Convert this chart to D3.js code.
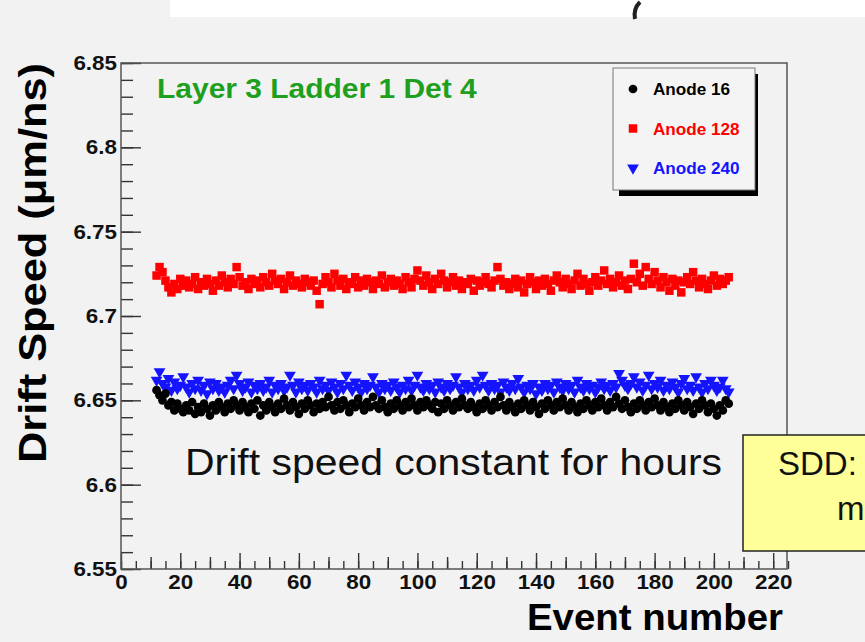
<!DOCTYPE html>
<html>
<head>
<meta charset="utf-8">
<script src="https://cdn.jsdelivr.net/npm/d3@7"></script>
<style>
  body { margin: 0; background: #f2f2f2; }
  svg { display: block; }
  text { font-family: "Liberation Sans", Arial, Helvetica, sans-serif; }
</style>
</head>
<body>
<div id="my_dataviz"></div>
<script>
// event numbers start at 12, one point per event
var firstEvent = 12;

// drift speed (um/ns) per event
var anode16 = [
  6.656, 6.653, 6.650, 6.654, 6.647, 6.649, 6.644, 6.648, 6.645, 6.643,
  6.647, 6.644, 6.649, 6.642, 6.646, 6.643, 6.648, 6.645, 6.641, 6.647,
  6.644, 6.649, 6.646, 6.643, 6.648, 6.645, 6.650, 6.647, 6.644, 6.649,
  6.646, 6.643, 6.648, 6.645, 6.650, 6.641, 6.647, 6.644, 6.649, 6.646,
  6.643, 6.648, 6.645, 6.651, 6.647, 6.644, 6.649, 6.646, 6.642, 6.648,
  6.645, 6.650, 6.647, 6.643, 6.648, 6.645, 6.649, 6.646, 6.652, 6.647,
  6.644, 6.649, 6.645, 6.650, 6.647, 6.643, 6.648, 6.646, 6.651, 6.647,
  6.644, 6.649, 6.646, 6.652, 6.647, 6.645, 6.650, 6.646, 6.643, 6.648,
  6.645, 6.650, 6.647, 6.644, 6.649, 6.646, 6.651, 6.647, 6.644, 6.649,
  6.646, 6.650, 6.647, 6.645, 6.649, 6.643, 6.648, 6.645, 6.650, 6.647,
  6.644, 6.649, 6.646, 6.651, 6.647, 6.645, 6.649, 6.646, 6.643, 6.648,
  6.645, 6.650, 6.647, 6.644, 6.649, 6.646, 6.652, 6.647, 6.644, 6.649,
  6.646, 6.643, 6.648, 6.645, 6.650, 6.647, 6.644, 6.649, 6.646, 6.642,
  6.648, 6.645, 6.650, 6.647, 6.644, 6.649, 6.646, 6.651, 6.647, 6.644,
  6.649, 6.646, 6.643, 6.648, 6.645, 6.650, 6.647, 6.644, 6.649, 6.646,
  6.651, 6.647, 6.644, 6.649, 6.646, 6.652, 6.648, 6.645, 6.650, 6.646,
  6.643, 6.648, 6.645, 6.650, 6.647, 6.644, 6.649, 6.646, 6.651, 6.647,
  6.644, 6.649, 6.646, 6.643, 6.648, 6.645, 6.650, 6.647, 6.644, 6.649,
  6.646, 6.642, 6.648, 6.645, 6.650, 6.647, 6.643, 6.648, 6.645, 6.641,
  6.647, 6.644, 6.650, 6.648
];
var anode128 = [
  6.724, 6.729, 6.726, 6.721, 6.717, 6.714, 6.719, 6.716, 6.722, 6.718,
  6.721, 6.717, 6.719, 6.723, 6.716, 6.720, 6.718, 6.722, 6.719, 6.715,
  6.721, 6.718, 6.724, 6.720, 6.717, 6.722, 6.719, 6.729, 6.723, 6.718,
  6.720, 6.716, 6.722, 6.719, 6.721, 6.717, 6.723, 6.720, 6.718, 6.725,
  6.721, 6.719, 6.722, 6.716, 6.720, 6.724, 6.718, 6.721, 6.719, 6.717,
  6.722, 6.720, 6.718, 6.721, 6.715, 6.707, 6.719, 6.723, 6.720, 6.717,
  6.725, 6.721, 6.718, 6.722, 6.716, 6.720, 6.719, 6.723, 6.717, 6.721,
  6.718, 6.722, 6.720, 6.716, 6.721, 6.719, 6.724, 6.717, 6.720, 6.722,
  6.718, 6.721, 6.719, 6.716, 6.723, 6.720, 6.717, 6.722, 6.727, 6.721,
  6.718, 6.724, 6.720, 6.716, 6.722, 6.719, 6.725, 6.721, 6.717, 6.720,
  6.723, 6.718, 6.721, 6.716, 6.720, 6.719, 6.722, 6.715, 6.721, 6.718,
  6.720, 6.723, 6.719, 6.717, 6.721, 6.729, 6.722, 6.718, 6.720, 6.716,
  6.719, 6.722, 6.717, 6.721, 6.714, 6.719, 6.723, 6.720, 6.716, 6.721,
  6.718, 6.722, 6.719, 6.715, 6.721, 6.724, 6.720, 6.717, 6.722, 6.719,
  6.716, 6.721, 6.725, 6.718, 6.722, 6.719, 6.715, 6.720, 6.723, 6.718,
  6.721, 6.727, 6.719, 6.722, 6.717, 6.720, 6.724, 6.718, 6.721, 6.716,
  6.722, 6.731, 6.720, 6.725, 6.718, 6.729, 6.722, 6.719, 6.726, 6.721,
  6.717, 6.723, 6.720, 6.715, 6.722, 6.718, 6.721, 6.714, 6.720, 6.723,
  6.719, 6.726, 6.721, 6.717, 6.722, 6.719, 6.716, 6.721, 6.724, 6.718,
  6.722, 6.719, 6.721, 6.723
];
var anode240 = [
  6.662, 6.667, 6.660, 6.658, 6.663, 6.656, 6.661, 6.657, 6.659, 6.664,
  6.658, 6.655, 6.660, 6.657, 6.662, 6.656, 6.659, 6.654, 6.661, 6.657,
  6.660, 6.656, 6.658, 6.655, 6.659, 6.662, 6.657, 6.665, 6.660, 6.656,
  6.658, 6.661, 6.655, 6.659, 6.657, 6.660, 6.656, 6.658, 6.662, 6.655,
  6.659, 6.657, 6.660, 6.656, 6.658, 6.665, 6.659, 6.655, 6.661, 6.657,
  6.659, 6.656, 6.660, 6.658, 6.655, 6.662, 6.657, 6.659, 6.656, 6.661,
  6.658, 6.655, 6.660, 6.657, 6.665, 6.659, 6.656, 6.661, 6.658, 6.655,
  6.660, 6.657, 6.659, 6.664, 6.658, 6.655, 6.660, 6.657, 6.659, 6.656,
  6.661, 6.658, 6.655, 6.659, 6.657, 6.662, 6.656, 6.659, 6.665, 6.658,
  6.656, 6.660, 6.657, 6.659, 6.655, 6.661, 6.658, 6.656, 6.660, 6.657,
  6.659, 6.664, 6.658, 6.655, 6.660, 6.657, 6.659, 6.656, 6.662, 6.658,
  6.665, 6.659, 6.656, 6.660, 6.657, 6.659, 6.655, 6.661, 6.658, 6.656,
  6.660, 6.657, 6.663, 6.658, 6.655, 6.659, 6.657, 6.660, 6.654, 6.658,
  6.656, 6.660, 6.657, 6.659, 6.655, 6.661, 6.658, 6.656, 6.660, 6.657,
  6.659, 6.655, 6.662, 6.658, 6.656, 6.660, 6.657, 6.659, 6.655, 6.658,
  6.661, 6.657, 6.659, 6.656, 6.660, 6.658, 6.666, 6.662, 6.659, 6.657,
  6.660, 6.664, 6.658, 6.661, 6.656, 6.659, 6.665, 6.657, 6.660, 6.658,
  6.662, 6.656, 6.659, 6.657, 6.661, 6.658, 6.655, 6.660, 6.663, 6.657,
  6.659, 6.656, 6.664, 6.658, 6.655, 6.660, 6.657, 6.662, 6.659, 6.656,
  6.658, 6.662, 6.657, 6.655
];

var xTicks = [0, 20, 40, 60, 80, 100, 120, 140, 160, 180, 200, 220];
var yTicks = [6.55, 6.6, 6.65, 6.7, 6.75, 6.8, 6.85];
var legendLabels = ["Anode 16", "Anode 128", "Anode 240"];

var W = 865, H = 642;

var svg = d3.select("#my_dataviz")
  .append("svg")
    .attr("width", W)
    .attr("height", H);

svg.append("rect").attr("width", W).attr("height", H).attr("fill", "#f2f2f2");

// white strip at the top (cut-off slide element)
svg.append("rect")
  .attr("x", 170).attr("y", 0).attr("width", 695).attr("height", 17)
  .attr("fill", "#ffffff");
svg.append("path")
  .attr("d", "M640,2 Q633,9 635,19")
  .attr("stroke", "#222").attr("stroke-width", 4).attr("fill", "none");

// scales
var x = d3.scaleLinear().domain([0, 225]).range([121, 788]);
var y = d3.scaleLinear().domain([6.55, 6.85]).range([569, 63]);

// stretch text horizontally a little, the picture is wider than tall
function stretch(sel, k) {
  sel.each(function() {
    var w = this.getComputedTextLength();
    d3.select(this).attr("textLength", w * k).attr("lengthAdjust", "spacingAndGlyphs");
  });
}

// minor ticks (inside the frame)
svg.append("g")
  .attr("transform", "translate(121,0)")
  .call(d3.axisLeft(y).tickValues(y.ticks(30)).tickSize(-12).tickFormat(""))
  .call(function(g) { g.select(".domain").remove(); });
svg.append("g")
  .attr("transform", "translate(0,569)")
  .call(d3.axisBottom(x).tickValues(d3.range(0, 226, 5)).tickSize(-8).tickFormat(""))
  .call(function(g) { g.select(".domain").remove(); });
svg.append("g")
  .attr("transform", "translate(0,569)")
  .call(d3.axisBottom(x).tickValues(d3.range(10, 226, 20)).tickSize(-12).tickFormat(""))
  .call(function(g) { g.select(".domain").remove(); });

// major ticks with labels
var yAxis = svg.append("g")
  .attr("transform", "translate(121,0)")
  .call(d3.axisLeft(y).tickValues(yTicks).tickSize(-20).tickPadding(4)
    .tickFormat(function(d) { return d3.format("")(+d.toFixed(2)); }));
yAxis.select(".domain").remove();

var xAxis = svg.append("g")
  .attr("transform", "translate(0,569)")
  .call(d3.axisBottom(x).tickValues(xTicks).tickSize(-16).tickPadding(6));
xAxis.select(".domain").remove();

svg.selectAll(".tick line").attr("stroke", "#333").attr("stroke-width", 1.4);
svg.selectAll(".tick text")
  .attr("fill", "#111")
  .style("font-size", "20px")
  .style("font-weight", "bold");
stretch(svg.selectAll(".tick text"), 1.12);

// frame
svg.append("rect")
  .attr("x", 121).attr("y", 63).attr("width", 666).attr("height", 506)
  .attr("fill", "none").attr("stroke", "#555").attr("stroke-width", 1.5);

// markers
var tri = d3.symbol().type(d3.symbolTriangle).size(60);
var sq = d3.symbol().type(d3.symbolSquare).size(72);
var circ = d3.symbol().type(d3.symbolCircle).size(60);

svg.append("g").selectAll("path")
  .data(anode240)
  .enter().append("path")
    .attr("d", tri)
    .attr("fill", "#1414ff")
    .attr("transform", function(d, i) {
      return "translate(" + x(firstEvent + i) + "," + y(d) + ") rotate(180)"; });

svg.append("g").selectAll("path")
  .data(anode128)
  .enter().append("path")
    .attr("d", sq)
    .attr("fill", "#ff0000")
    .attr("transform", function(d, i) {
      return "translate(" + x(firstEvent + i) + "," + y(d) + ")"; });

svg.append("g").selectAll("path")
  .data(anode16)
  .enter().append("path")
    .attr("d", circ)
    .attr("fill", "#000")
    .attr("transform", function(d, i) {
      return "translate(" + x(firstEvent + i) + "," + y(d) + ")"; });

// title in the pad
var title = svg.append("text")
  .attr("x", 157).attr("y", 98)
  .attr("fill", "#1ea01e")
  .style("font-size", "28px").style("font-weight", "bold")
  .text("Layer 3 Ladder 1 Det 4");
stretch(title, 1.07);

// legend with its shadow
svg.append("rect")
  .attr("x", 619).attr("y", 74).attr("width", 139).attr("height", 122)
  .attr("fill", "#000");
svg.append("rect")
  .attr("x", 613).attr("y", 68).attr("width", 142).attr("height", 122)
  .attr("fill", "#f4f4f4").attr("stroke", "#777").attr("stroke-width", 1);

var legColors = ["#000", "#ff0000", "#1414ff"];
var legSymbols = [circ, sq, tri];
var leg = svg.append("g").selectAll("g")
  .data(legendLabels)
  .enter().append("g")
    .attr("transform", function(d, i) { return "translate(0," + (89 + i * 39.5) + ")"; });
leg.append("path")
  .attr("d", function(d, i) { return legSymbols[i](); })
  .attr("fill", function(d, i) { return legColors[i]; })
  .attr("transform", function(d, i) { return "translate(633,0)" + (i == 2 ? " rotate(180)" : ""); });
leg.append("text")
  .attr("x", 653).attr("y", 6)
  .attr("fill", function(d, i) { return legColors[i]; })
  .style("font-size", "16px").style("font-weight", "bold")
  .text(function(d) { return d; });
stretch(leg.selectAll("text"), 1.07);

// axis labels
var yl = svg.append("text")
  .attr("transform", "translate(46,263) rotate(-90)")
  .attr("text-anchor", "middle")
  .attr("fill", "#000")
  .style("font-size", "39px").style("font-weight", "bold")
  .text("Drift Speed (\u03bcm/ns)");
yl.attr("textLength", 400).attr("lengthAdjust", "spacingAndGlyphs");

var xl = svg.append("text")
  .attr("x", 783).attr("y", 630)
  .attr("text-anchor", "end")
  .attr("fill", "#000")
  .style("font-size", "37px").style("font-weight", "bold")
  .text("Event number");
xl.attr("textLength", 256).attr("lengthAdjust", "spacingAndGlyphs");

// annotation
svg.append("text")
  .attr("x", 185).attr("y", 475)
  .attr("fill", "#111")
  .style("font-size", "37px")
  .attr("textLength", 537).attr("lengthAdjust", "spacingAndGlyphs")
  .text("Drift speed constant for hours");

// yellow box from the slide, partly cut off
svg.append("rect")
  .attr("x", 743).attr("y", 435).attr("width", 140).attr("height", 116)
  .attr("fill", "#ffff99").attr("stroke", "#222").attr("stroke-width", 1.5);
svg.append("text")
  .attr("x", 778).attr("y", 475)
  .attr("fill", "#111")
  .style("font-size", "33px")
  .text("SDD:");
svg.append("text")
  .attr("x", 837).attr("y", 520)
  .attr("fill", "#111")
  .style("font-size", "33px")
  .text("m");
</script>
</body>
</html>
